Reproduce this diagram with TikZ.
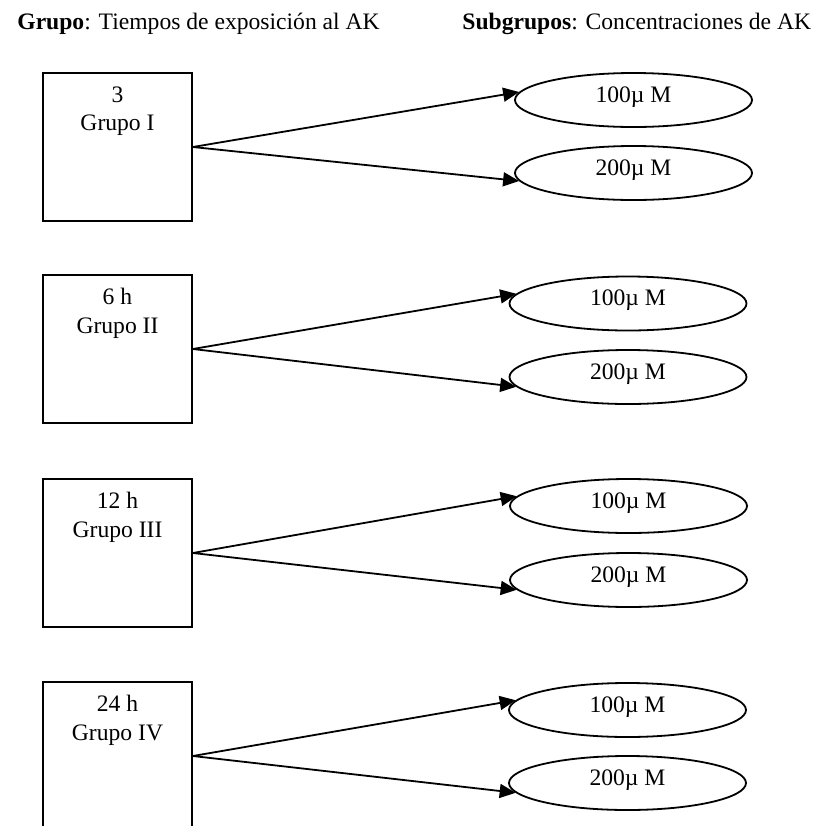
\documentclass[tikz,border=0pt]{standalone}
\usepackage{fontspec}
\setmainfont{Liberation Serif}
\usetikzlibrary{positioning, shapes.geometric, arrows.meta}

\begin{document}
\begin{tikzpicture}[x=0.5pt, y=-0.5pt,
    every node/.style={font=\fontsize{11.8}{14.4}\selectfont},
    grupobox/.style={draw, line width=0.9pt, minimum width=74.5pt, minimum height=74pt, inner sep=0pt},
    grupotext/.style={align=center, inner sep=0pt},
    subgrupo/.style={draw, ellipse, line width=0.9pt, minimum width=118.5pt, minimum height=27pt,
        inner sep=0pt, text height=8pt, text depth=6pt},
    flecha/.style={line width=0.9pt, -{Triangle[length=8pt, width=7pt]}}]
        \useasboundingbox (0,0) rectangle (817,826);
        \clip (0,0) rectangle (817,826);
        % titulos
        \node[anchor=base west, inner sep=0pt] (titulo) at (17,29) {\textbf{Grupo}: Tiempos de exposición al AK};
        \node[anchor=base west, inner sep=0pt] (subtitulo) at (462,29) {\textbf{Subgrupos}: Concentraciones de AK};
        % grupo I
        \node[grupobox] (g1) at (117.5,147) {};
        \node[grupotext, below=7pt of g1.north] (t1) {3\\Grupo I};
        \node[subgrupo] (s11) at (633.5,100) {100µ M};
        \node[subgrupo] (s12) at (633.5,173) {200µ M};
        \draw[flecha] (g1.east) -- (s11.176);
        \draw[flecha] (g1.east) -- (s12.184);
        % grupo II
        \node[grupobox] (g2) at (117.5,349) {};
        \node[grupotext, below=7pt of g2.north] (t2) {6 h\\Grupo II};
        \node[subgrupo] (s21) at (628,303.5) {100µ M};
        \node[subgrupo] (s22) at (628,377) {200µ M};
        \draw[flecha] (g2.east) -- (s21.175);
        \draw[flecha] (g2.east) -- (s22.185);
        % grupo III
        \node[grupobox] (g3) at (117.5,553) {};
        \node[grupotext, below=7pt of g3.north] (t3) {12 h\\Grupo III};
        \node[subgrupo] (s31) at (628.5,506) {100µ M};
        \node[subgrupo] (s32) at (628.5,580) {200µ M};
        \draw[flecha] (g3.east) -- (s31.175);
        \draw[flecha] (g3.east) -- (s32.185);
        % grupo IV
        \node[grupobox] (g4) at (117.5,756) {};
        \node[grupotext, below=7pt of g4.north] (t4) {24 h\\Grupo IV};
        \node[subgrupo] (s41) at (627.5,710) {100µ M};
        \node[subgrupo] (s42) at (627.5,783) {200µ M};
        \draw[flecha] (g4.east) -- (s41.175);
        \draw[flecha] (g4.east) -- (s42.185);
    \end{tikzpicture}
\end{document}
